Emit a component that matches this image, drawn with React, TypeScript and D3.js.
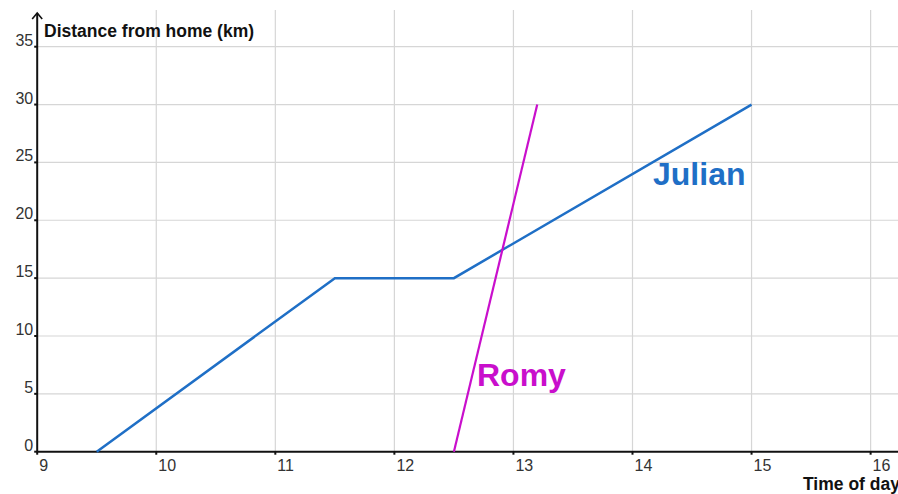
import React, { useRef, useEffect } from 'react';
import * as d3 from 'd3';

const julianTimes = [9.5, 11.5, 12.5, 15];
const julianDistances = [0, 15, 15, 30];
const romyTimes = [12.5, 13.2];
const romyDistances = [0, 30];
const xTicks = [9, 10, 11, 12, 13, 14, 15, 16];
const yTicks = [0, 5, 10, 15, 20, 25, 30, 35];

const App: React.FC = () => {
  const ref = useRef<SVGSVGElement | null>(null);

  useEffect(() => {
    if (!ref.current) return;
    const width = 898;
    const height = 494;
    const svg = d3.select(ref.current);
    svg.selectAll('*').remove();

    // scales
    const x = d3.scaleLinear().domain([9, 16.23]).range([37.2, 898]);
    const y = d3.scaleLinear().domain([0, 35]).range([451.7, 46.7]);
    const font = '"Liberation Sans", Arial, sans-serif';

    // grid
    svg.append('g')
      .selectAll('line')
      .data(xTicks.slice(1))
      .enter()
      .append('line')
      .attr('x1', (d) => x(d))
      .attr('x2', (d) => x(d))
      .attr('y1', 10)
      .attr('y2', y(0))
      .attr('stroke', '#d6d6d6')
      .attr('stroke-width', 1.2);

    svg.append('g')
      .selectAll('line')
      .data(yTicks.slice(1))
      .enter()
      .append('line')
      .attr('x1', x(9))
      .attr('x2', width)
      .attr('y1', (d) => y(d))
      .attr('y2', (d) => y(d))
      .attr('stroke', '#d6d6d6')
      .attr('stroke-width', 1.2);

    // axes
    svg.append('line')
      .attr('x1', x(9)).attr('x2', width)
      .attr('y1', y(0)).attr('y2', y(0))
      .attr('stroke', '#111').attr('stroke-width', 2);
    svg.append('line')
      .attr('x1', x(9)).attr('x2', x(9))
      .attr('y1', y(0)).attr('y2', 13)
      .attr('stroke', '#111').attr('stroke-width', 2);
    svg.append('path')
      .attr('d', `M${x(9) - 5},${19} L${x(9)},${13} L${x(9) + 5},${19}`)
      .attr('fill', 'none')
      .attr('stroke', '#111')
      .attr('stroke-width', 1.6);

    // tick marks
    svg.append('g')
      .selectAll('line')
      .data(xTicks)
      .enter()
      .append('line')
      .attr('x1', (d) => x(d)).attr('x2', (d) => x(d))
      .attr('y1', y(0)).attr('y2', y(0) + 3)
      .attr('stroke', '#111').attr('stroke-width', 2);
    svg.append('g')
      .selectAll('line')
      .data(yTicks)
      .enter()
      .append('line')
      .attr('x1', x(9) - 3).attr('x2', x(9))
      .attr('y1', (d) => y(d)).attr('y2', (d) => y(d))
      .attr('stroke', '#111').attr('stroke-width', 2);

    // tick labels
    svg.append('g')
      .selectAll('text')
      .data(xTicks)
      .enter()
      .append('text')
      .attr('x', (d) => x(d) + 2)
      .attr('y', y(0) + 19)
      .attr('font-family', font)
      .attr('font-size', 16)
      .attr('fill', '#333')
      .text((d) => d);
    svg.append('g')
      .selectAll('text')
      .data(yTicks)
      .enter()
      .append('text')
      .attr('x', x(9) - 4)
      .attr('y', (d) => y(d) - 1)
      .attr('text-anchor', 'end')
      .attr('font-family', font)
      .attr('font-size', 16)
      .attr('fill', '#333')
      .text((d) => d);

    // axis titles
    svg.append('text')
      .attr('x', 44).attr('y', 37)
      .attr('font-family', font).attr('font-size', 17.5).attr('font-weight', 'bold')
      .attr('fill', '#111')
      .text('Distance from home (km)');
    svg.append('text')
      .attr('x', 803).attr('y', 490)
      .attr('font-family', font).attr('font-size', 17.5).attr('font-weight', 'bold')
      .attr('fill', '#111')
      .text('Time of day');

    // lines
    const line = d3.line<[number, number]>()
      .x((d) => x(d[0]))
      .y((d) => y(d[1]));

    svg.append('path')
      .datum(julianTimes.map((t, i) => [t, julianDistances[i]] as [number, number]))
      .attr('d', line)
      .attr('fill', 'none')
      .attr('stroke', '#1f6fc6')
      .attr('stroke-width', 2.5);

    svg.append('path')
      .datum(romyTimes.map((t, i) => [t, romyDistances[i]] as [number, number]))
      .attr('d', line)
      .attr('fill', 'none')
      .attr('stroke', '#c90fcc')
      .attr('stroke-width', 2.2);

    // series labels
    svg.append('text')
      .attr('x', 653).attr('y', 185)
      .attr('font-family', font).attr('font-size', 32).attr('font-weight', 'bold')
      .attr('fill', '#1f6fc6')
      .text('Julian');
    svg.append('text')
      .attr('x', 477).attr('y', 386)
      .attr('font-family', font).attr('font-size', 32).attr('font-weight', 'bold')
      .attr('fill', '#c90fcc')
      .text('Romy');

    svg.attr('width', width).attr('height', height);
  }, []);

  return (
    <svg
      ref={ref}
      width={898}
      height={494}
      style={{ position: 'absolute', left: 0, top: 0, background: '#fff' }}
    />
  );
};

export default App;
